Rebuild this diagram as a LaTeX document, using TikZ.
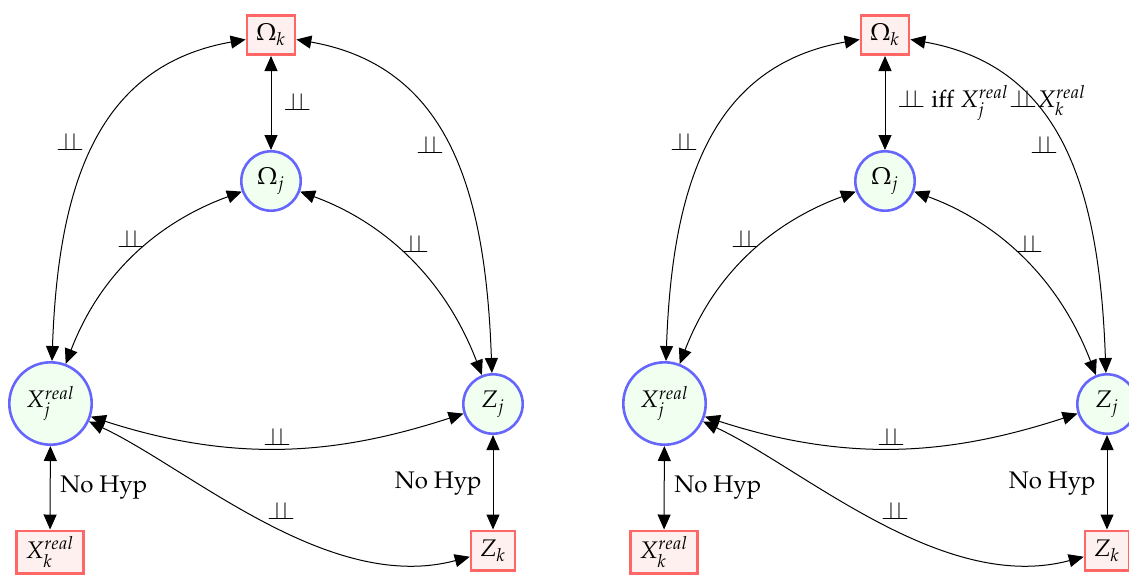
\documentclass[tikz,border=0pt,12pt]{standalone}
\usepackage[T1]{fontenc}
\usepackage{mathpazo}
\usetikzlibrary{arrows.meta}
\definecolor{nodeblue}{RGB}{102,102,255}
\definecolor{nodegreen}{RGB}{240,255,240}
\definecolor{boxred}{RGB}{255,102,102}
\definecolor{boxpink}{RGB}{255,240,240}
\newcommand{\indep}{{\perp\!\!\!\perp}}
\tikzset{
  cnode/.style={circle, draw=nodeblue, fill=nodegreen, line width=1.3pt, inner sep=0pt},
  bnode/.style={rectangle, draw=boxred, fill=boxpink, line width=1.3pt, inner xsep=4.5pt, inner ysep=3pt, minimum height=19.7pt},
  conn/.style={{Triangle[length=7.5pt,width=6.5pt]}-{Triangle[length=7.5pt,width=6.5pt]}, line width=0.5pt},
  lab/.style={inner sep=0pt, anchor=base},
}
\newcommand{\halfdiagram}[2]{%
  \node[bnode] (Ok) at (271,35) {$\Omega_k$};
  \node[cnode, minimum size=29.7pt] (Oj) at (271,181) {$\Omega_j$};
  \node[cnode, minimum size=41.2pt] (Xj) at (50.5,403.5) {$X_j^{real}$};
  \node[cnode, minimum size=29.7pt] (Zj) at (493,404) {$Z_j$};
  \node[bnode] (Xk) at (50,552) {$X_k^{real}$};
  \node[bnode] (Zk) at (493,550.5) {$Z_k$};
  \draw[conn] (Ok) -- (Oj);
  \draw[conn] (Xj) to[out=88,in=190,looseness=1.15] (Ok);
  \draw[conn] (Zj) to[out=92,in=-10,looseness=1.15] (Ok);
  \draw[conn] (Xj) to[out=69,in=200] (Oj);
  \draw[conn] (Zj) to[out=111,in=-20] (Oj);
  \draw[conn] (Xj) to[out=-18,in=198] (Zj);
  \draw[conn] (Xj) to[out=-25,in=195,out distance=55pt,in distance=85pt] (Zk);
  \draw[conn] (Xj) -- (Xk);
  \draw[conn] (Zj) -- (Zk);
  \node[lab] (lOkXj) at (70,150) {$\indep$};
  \node[lab] (lOjXj) at (131,247) {$\indep$};
  \node[lab, anchor=base west] (lOkOj) at (283,#2) {#1};
  \node[lab] (lOkZj) at (430,153) {$\indep$};
  \node[lab] (lOjZj) at (415,252) {$\indep$};
  \node[lab] (lXjZj) at (277,445) {$\indep$};
  \node[lab] (lXjZk) at (281,519) {$\indep$};
  \node[lab, anchor=base west] (lXjXk) at (60,492) {No Hyp};
  \node[lab, anchor=base east] (lZjZk) at (482,488) {No Hyp};
}
\begin{document}
\begin{tikzpicture}[x=0.5pt, y=-0.5pt]
  \useasboundingbox (0,0) rectangle (1129,574);
  \begin{scope}[name prefix=L-]
    \halfdiagram{$\indep$}{110}
  \end{scope}
  \begin{scope}[xshift=307pt, name prefix=R-]
    \halfdiagram{$\indep$ iff $X_j^{real}\indep X_k^{real}$}{107}
  \end{scope}
\end{tikzpicture}
\end{document}
